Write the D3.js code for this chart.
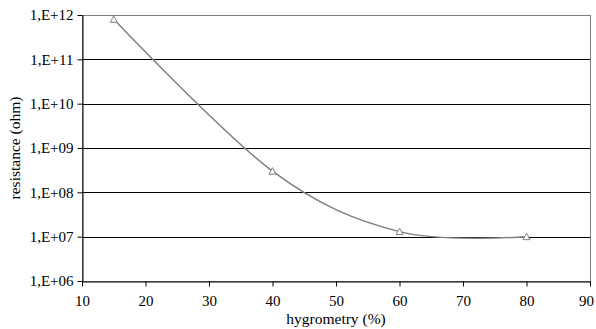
<!DOCTYPE html>
<html>
<head>
<meta charset="utf-8">
<script src="https://cdn.jsdelivr.net/npm/d3@7"></script>
<style>
  body { margin: 0; background: #fff; }
  text { font-family: "Liberation Serif", "Times New Roman", serif; fill: #000; }
</style>
</head>
<body>
<svg width="596" height="329"></svg>
<script>
// data
const hygrometry = [15, 40, 60, 80]
const resistance = [8e11, 3e8, 1.3e7, 1e7]
const xTicks = [10, 20, 30, 40, 50, 60, 70, 80, 90]
const yTicks = [1e6, 1e7, 1e8, 1e9, 1e10, 1e11, 1e12]

const margin = { left: 82, right: 6, top: 15, bottom: 48 }
const width = 596, height = 329
const svg = d3.select("svg")

const x = d3.scaleLinear().domain([10, 90]).range([margin.left, width - margin.right])
const y = d3.scaleLog().domain([1e6, 1e12]).range([height - margin.bottom, margin.top])

const fmt = v => "1,E+" + String(Math.round(Math.log10(v))).padStart(2, "0")

// plot area border (grey)
svg.append("rect")
    .attr("x", x(10) + 0.5)
    .attr("y", y(1e12) + 0.5)
    .attr("width", x(90) - x(10))
    .attr("height", y(1e6) - y(1e12))
    .attr("fill", "none")
    .attr("stroke", "#808080")

// gridlines
svg.append("g")
    .selectAll("line")
    .data(yTicks.filter(v => v > 1e6 && v < 1e12))
    .enter()
    .append("line")
    .attr("x1", x(10))
    .attr("x2", x(90))
    .attr("y1", d => Math.round(y(d)) + 0.5)
    .attr("y2", d => Math.round(y(d)) + 0.5)
    .attr("stroke", "#000")

// axes
const yAxis = svg.append("g")
    .attr("transform", `translate(${x(10) + 0.5},0)`)
    .call(d3.axisLeft(y).tickValues(yTicks).tickFormat(fmt).tickSize(5).tickSizeOuter(0))
const xAxis = svg.append("g")
    .attr("transform", `translate(0,${Math.round(y(1e6)) + 0.5})`)
    .call(d3.axisBottom(x).tickValues(xTicks).tickSize(5).tickSizeOuter(0))

;[yAxis, xAxis].forEach(a => {
    a.select(".domain").attr("stroke", "#000")
    a.selectAll(".tick line").attr("stroke", "#000")
    a.selectAll("text")
        .style("font-family", '"Liberation Serif", serif')
        .style("font-size", "15px")
        .attr("fill", "#000")
})
yAxis.selectAll("text").attr("x", -9)
xAxis.selectAll("text").attr("y", 14)
// keep the last label inside the window
xAxis.selectAll(".tick text").filter(d => d === 90).attr("x", -4)

// axis titles
svg.append("text")
    .attr("x", (x(10) + x(90)) / 2)
    .attr("y", 324)
    .attr("text-anchor", "middle")
    .style("font-size", "15.5px")
    .text("hygrometry (%)")

svg.append("text")
    .attr("transform", `translate(20,${(y(1e6) + y(1e12)) / 2}) rotate(-90)`)
    .attr("text-anchor", "middle")
    .style("font-size", "15.5px")
    .text("resistance (ohm)")

// smoothed series line
const points = hygrometry.map((h, i) => [x(h), y(resistance[i])])
svg.append("path")
    .attr("d", d3.line().curve(d3.curveCardinal.tension(0))(points))
    .attr("fill", "none")
    .attr("stroke", "#808080")
    .attr("stroke-width", 1.5)

// open triangle markers
svg.append("g")
    .selectAll("path")
    .data(points)
    .enter()
    .append("path")
    .attr("transform", d => `translate(${d[0]},${d[1]})`)
    .attr("d", "M0,-3.5L3.5,3L-3.5,3Z")
    .attr("fill", "#fff")
    .attr("stroke", "#808080")
    .attr("stroke-width", 1)
</script>
</body>
</html>
